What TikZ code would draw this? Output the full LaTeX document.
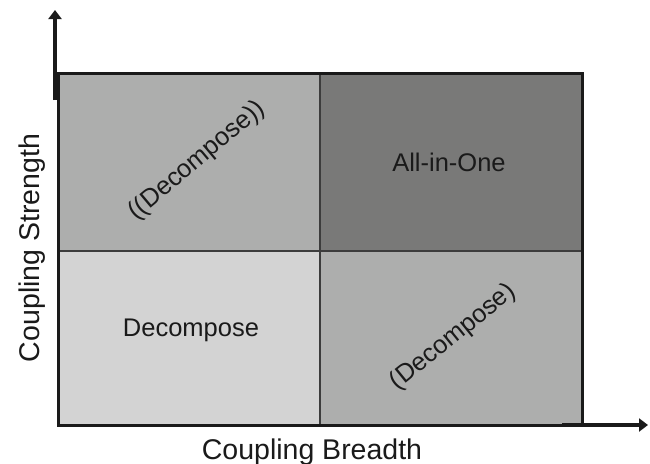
\documentclass[tikz,border=0pt]{standalone}
\usepackage{fontspec}
\setmainfont{Liberation Sans}
\usetikzlibrary{arrows.meta}
\definecolor{cellA}{HTML}{ADAEAD}
\definecolor{cellB}{HTML}{797978}
\definecolor{cellC}{HTML}{D3D3D3}
\definecolor{innerline}{HTML}{3C3C3C}
\definecolor{ink}{HTML}{1A1A1A}
\tikzset{
  cell/.style={draw=none, inner sep=0pt, outer sep=0pt},
  celltext/.style={font=\fontsize{25.5}{30}\selectfont, text=ink, inner sep=0pt},
  axislabel/.style={font=\fontsize{28.5}{33}\selectfont, text=ink, inner sep=0pt},
  axisline/.style={draw=ink, line width=3.5pt, -{Triangle[length=9pt,width=13pt]}},
  frame/.style={draw=ink, line width=3pt},
  divider/.style={draw=innerline, line width=1.6pt}
}
\begin{document}
\begin{tikzpicture}[x=1pt,y=-1pt]
\useasboundingbox (0,0) rectangle (650,463);
% cells
\fill[cellA] (58,73) rectangle (320,251);
\fill[cellB] (320,73) rectangle (582,251);
\fill[cellC] (58,251) rectangle (320,426);
\fill[cellA] (320,251) rectangle (582,426);
% dividers
\coordinate (vt) at (320,73);
\coordinate (vb) at (320,426);
\coordinate (hl) at (58,251);
\coordinate (hr) at (582,251);
\draw[divider] (vt) -- (vb);
\draw[divider] (hl) -- (hr);
% frame
\coordinate (fbl) at (58,425);
\coordinate (ftl) at (58,73);
\coordinate (ftr) at (582,73);
\coordinate (fbr) at (582,425);
\draw[frame] (fbl) -- (ftl) -- (ftr) -- (fbr) -- cycle;
% axes
\coordinate (ys) at (55,100);
\coordinate (ye) at (55,10);
\coordinate (xs) at (562,425);
\coordinate (xe) at (648,425);
\draw[axisline] (ys) -- (ye);
\draw[axisline] (xs) -- (xe);
% texts
\node[celltext, rotate=40] (tl) at (197,161) {((Decompose))};
\node[celltext] (tr) at (449,162) {All-in-One};
\node[celltext] (bl) at (191,330) {Decompose};
\node[celltext, rotate=39] (br) at (453,337) {(Decompose)};
\node[axislabel, anchor=base] (xl) at (312,459) {Coupling Breadth};
\node[axislabel, rotate=90, anchor=base] (yl) at (39,248) {Coupling Strength};
\end{tikzpicture}
\end{document}
